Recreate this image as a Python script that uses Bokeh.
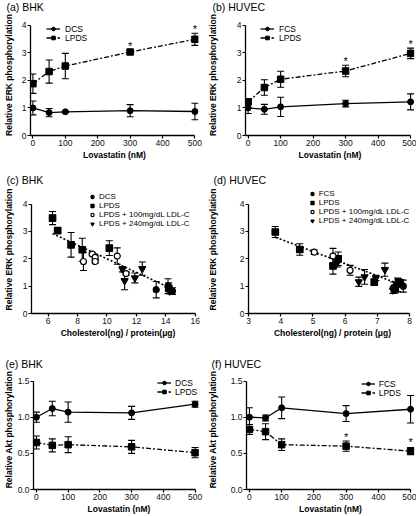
from bokeh.plotting import figure
from bokeh.models import (ColumnDataSource, Whisker, TeeHead, Legend, LegendItem,
                          FixedTicker, PrintfTickFormatter, Range1d)
from bokeh.layouts import column, row
from bokeh.embed import file_html
from bokeh.resources import INLINE
from bokeh.core.properties import value

FONT = "Liberation Sans"

# ---------------- data ----------------
lovastatin_nM = [0, 50, 100, 300, 500]
lov_ticks = [0, 100, 200, 300, 400, 500]
erk_ticks = [0, 1, 2, 3, 4]
akt_ticks = [0.0, 0.5, 1.0, 1.5]

# (a) BHK ERK
a_dcs = [1.0, 0.83, 0.86, 0.9, 0.87]
a_dcs_err = [0.25, 0.15, 0.03, 0.22, 0.3]
a_lpds = [1.88, 2.32, 2.52, 3.03, 3.49]
a_lpds_err = [0.35, 0.42, 0.46, 0.07, 0.22]
a_star_x = [300, 500]
a_star_y = [3.25, 3.85]

# (b) HUVEC ERK
b_fcs = [1.0, 0.95, 1.04, 1.16, 1.22]
b_fcs_err = [0.2, 0.18, 0.35, 0.12, 0.29]
b_lpds = [1.22, 1.74, 2.04, 2.34, 2.98]
b_lpds_err = [0.1, 0.28, 0.29, 0.21, 0.19]
b_star_x = [300, 500]
b_star_y = [2.72, 3.32]

# (c) BHK ERK vs cholesterol
c_dcs_x = [13.35, 14.15, 14.45]
c_dcs_y = [0.87, 1.0, 0.82]
c_dcs_err = [0.3, 0.27, 0.12]
c_lpds_x = [6.3, 6.65, 7.56, 8.32, 10.16, 14.2]
c_lpds_y = [3.49, 3.03, 2.51, 2.33, 2.39, 0.92]
c_lpds_err = [0.24, 0.05, 0.45, 0.42, 0.27, 0.2]
c_ldl100_x = [8.4, 9.0, 9.2, 9.2, 10.7, 11.3]
c_ldl100_y = [1.9, 2.17, 2.05, 1.9, 2.1, 1.46]
c_ldl100_err = [0.33, 0.05, 0.08, 0.05, 0.3, 0.06]
c_ldl240_x = [11.05, 11.2, 11.9, 12.4, 14.25]
c_ldl240_y = [1.62, 1.2, 1.3, 1.64, 0.82]
c_ldl240_err = [0.1, 0.33, 0.18, 0.24, 0.1]
c_fit_x = [6.3, 14.5]
c_fit_y = [2.92, 0.88]
c_ticks = [6, 8, 10, 12, 14, 16]

# (d) HUVEC ERK vs cholesterol
d_fcs_x = [7.5, 7.62, 7.72, 7.8]
d_fcs_y = [0.95, 1.05, 1.12, 1.0]
d_fcs_err = [0.2, 0.25, 0.12, 0.22]
d_lpds_x = [3.83, 4.59, 5.62, 5.78, 6.9, 7.55, 7.65]
d_lpds_y = [2.98, 2.34, 1.74, 2.0, 1.15, 0.9, 1.15]
d_lpds_err = [0.2, 0.21, 0.3, 0.25, 0.1, 0.15, 0.1]
d_ldl100_x = [5.04, 5.62, 6.15]
d_ldl100_y = [2.24, 2.1, 1.58]
d_ldl100_err = [0.08, 0.28, 0.18]
d_ldl240_x = [5.75, 6.42, 6.6, 6.95, 7.23, 7.48]
d_ldl240_y = [1.85, 1.16, 1.34, 1.3, 1.6, 0.85]
d_ldl240_err = [0.15, 0.17, 0.27, 0.1, 0.24, 0.12]
d_fit_x = [3.85, 7.8]
d_fit_y = [2.78, 1.02]
d_ticks = [3, 4, 5, 6, 7, 8]

# (e) BHK Akt
e_dcs = [1.0, 1.12, 1.07, 1.06, 1.18]
e_dcs_err = [0.07, 0.1, 0.14, 0.09, 0.04]
e_lpds = [0.65, 0.61, 0.62, 0.59, 0.51]
e_lpds_err = [0.09, 0.09, 0.11, 0.09, 0.07]

# (f) HUVEC Akt
f_fcs = [1.0, 0.99, 1.13, 1.05, 1.11]
f_fcs_err = [0.13, 0.04, 0.15, 0.11, 0.19]
f_lpds = [0.83, 0.8, 0.62, 0.6, 0.53]
f_lpds_err = [0.07, 0.11, 0.08, 0.07, 0.05]
f_star_x = [300, 500]
f_star_y = [0.73, 0.66]

# ---------------- styling helpers ----------------
TICK_FS = "8.5px"
TITLE_FS = "8.5px"
LEG_FS = "8.5px"
LEG_FS_SMALL = "8px"
PANEL_FS = "10.5px"
DASHDOT = "5 2 2 2"
DOTTED = "2 2"


def make_fig(w, h, title, title_off, title_va, xr, yr, mb, xb, yb, xticks, yticks,
             xlabel, ylabel, ystand, yfmt=None):
    p = figure(width=w, height=h, x_range=Range1d(*xr), y_range=Range1d(*yr),
               output_backend="svg", toolbar_location=None, tools="",
               min_border_left=mb[0], min_border_right=mb[1],
               min_border_top=mb[2], min_border_bottom=mb[3])
    p.title.text = title
    p.title.align = "left"
    p.title.offset = title_off
    p.title.standoff = 0
    p.title.vertical_align = title_va
    p.title.text_font = FONT
    p.title.text_font_size = PANEL_FS
    p.title.text_font_style = "normal"
    p.title.text_color = "black"
    p.outline_line_color = None
    p.xgrid.visible = False
    p.ygrid.visible = False
    p.background_fill_color = "white"
    p.border_fill_color = "white"
    for ax in (p.xaxis[0], p.yaxis[0]):
        ax.axis_line_width = 1.3
        ax.axis_line_color = "black"
        ax.major_tick_line_color = "black"
        ax.major_tick_line_width = 1.2
        ax.major_tick_out = 3
        ax.major_tick_in = 0
        ax.minor_tick_out = 0
        ax.minor_tick_in = 0
        ax.major_label_text_font = FONT
        ax.major_label_text_font_size = TICK_FS
        ax.major_label_text_color = "#111111"
        ax.major_label_standoff = 1
        ax.axis_label_text_font = FONT
        ax.axis_label_text_font_style = "bold"
        ax.axis_label_text_font_size = TITLE_FS
        ax.axis_label_text_color = "black"
    p.xaxis[0].bounds = xb
    p.yaxis[0].bounds = yb
    p.xaxis[0].ticker = FixedTicker(ticks=xticks)
    p.yaxis[0].ticker = FixedTicker(ticks=yticks)
    if yfmt:
        p.yaxis[0].formatter = PrintfTickFormatter(format=yfmt)
    p.xaxis[0].axis_label = xlabel
    p.xaxis[0].axis_label_standoff = 1
    p.yaxis[0].axis_label = ylabel
    p.yaxis[0].axis_label_standoff = ystand
    return p


def add_err(p, x, y, e):
    src = ColumnDataSource(dict(base=x,
                                upper=[a + b for a, b in zip(y, e)],
                                lower=[a - b for a, b in zip(y, e)]))
    w = Whisker(source=src, base="base", upper="upper", lower="lower",
                dimension="height", line_color="black", line_width=1.1,
                upper_head=TeeHead(size=7, line_color="black", line_width=1.1),
                lower_head=TeeHead(size=7, line_color="black", line_width=1.1))
    p.add_layout(w)


def add_leg(p, label, renderers, x, y, gw, standoff, fs=LEG_FS):
    lg = Legend(items=[LegendItem(label=label, renderers=renderers)], location=(x, y),
                padding=0, margin=0, spacing=0, glyph_width=gw, glyph_height=9,
                label_height=9, label_standoff=standoff, label_text_font=FONT,
                label_text_font_size=fs, label_text_color="black",
                border_line_color=None, background_fill_alpha=0.0)
    p.add_layout(lg)


def line_series(p, x, y, e, marker, dash, size):
    r1 = p.line(x, y, line_color="black", line_width=1.3, line_dash=dash)
    add_err(p, x, y, e)
    r2 = p.scatter(x, y, marker=marker, size=size, fill_color="black", line_color="black")
    return [r1, r2]


def stars(p, x, y):
    p.text(x=x, y=y, text=["*"] * len(x), text_font=value(FONT), text_font_size="11px",
           text_align="center", text_baseline="middle", text_color="black")


def scatter_series(p, x, y, e, marker, size, fill):
    add_err(p, x, y, e)
    return [p.scatter(x, y, marker=marker, size=size, fill_color=fill,
                      line_color="black", line_width=1.2)]


W1, W2 = 204, 212
R1, R2, R3 = 170, 170, 176
LOV = "Lovastatin (nM)"
CHOL_C = "Cholesterol(ng) / protein(\u03bcg)"
CHOL_D = "Cholesterol(ng) / protein (\u03bcg)"
ERK_T = "Relative ERK phosphorylation"
AKT_T = "Relative Akt phosphorylation"

# (a)
pa = make_fig(W1, R1, "(a) BHK", -24, "top", (-7.45, 511), (0, 4.39), (24, 6, 12, 35),
              (-7.45, 500), (0, 4), lov_ticks, erk_ticks, LOV, ERK_T, 5)
ra1 = line_series(pa, lovastatin_nM, a_dcs, a_dcs_err, "circle", "solid", 6)
ra2 = line_series(pa, lovastatin_nM, a_lpds, a_lpds_err, "square", DASHDOT, 6.5)
stars(pa, a_star_x, a_star_y)
add_leg(pa, "DCS", ra1, 16, 101.5, 14, 5)
add_leg(pa, "LPDS", ra2, 16, 92.5, 14, 5)

# (b)
pb = make_fig(W2, R1, "(b) HUVEC", -33, "top", (-8.1, 512), (0, 4.39), (37, 2, 12, 35),
              (-8.1, 500), (0, 4), lov_ticks, erk_ticks, LOV, ERK_T, 16)
rb1 = line_series(pb, lovastatin_nM, b_fcs, b_fcs_err, "circle", "solid", 6)
rb2 = line_series(pb, lovastatin_nM, b_lpds, b_lpds_err, "square", DASHDOT, 6.5)
stars(pb, b_star_x, b_star_y)
add_leg(pb, "FCS", rb1, 15, 101.5, 14, 5)
add_leg(pb, "LPDS", rb2, 15, 92.5, 14, 5)

# (c)
pc = make_fig(W1, R2, "(c) BHK", -25, "bottom", (4.87, 16.63), (0, 4.679), (25, 0, 15, 24),
              (4.87, 16), (0, 4), c_ticks, erk_ticks, CHOL_C, ERK_T, 6)
pc.line(c_fit_x, c_fit_y, line_color="black", line_width=1.6, line_dash=DOTTED)
rc1 = scatter_series(pc, c_dcs_x, c_dcs_y, c_dcs_err, "circle", 6, "black")
rc2 = scatter_series(pc, c_lpds_x, c_lpds_y, c_lpds_err, "square", 6.5, "black")
rc3 = scatter_series(pc, c_ldl100_x, c_ldl100_y, c_ldl100_err, "circle", 6, "white")
rc4 = scatter_series(pc, c_ldl240_x, c_ldl240_y, c_ldl240_err, "inverted_triangle", 7, "black")
add_leg(pc, "DCS", rc1, 57, 112.2, 8, 3, LEG_FS_SMALL)
add_leg(pc, "LPDS", rc2, 57, 103.2, 8, 3, LEG_FS_SMALL)
add_leg(pc, "LPDS + 100mg/dL LDL-C", rc3, 57, 94.2, 8, 3, LEG_FS_SMALL)
add_leg(pc, "LPDS + 240mg/dL LDL-C", rc4, 57, 84.8, 8, 3, LEG_FS_SMALL)

# (d)
pd_ = make_fig(W2, R2, "(d) HUVEC", -35, "bottom", (3, 8.21), (0, 4.679), (40, 0, 15, 24),
               (3, 8), (0, 4), d_ticks, erk_ticks, CHOL_D, ERK_T, 19)
pd_.line(d_fit_x, d_fit_y, line_color="black", line_width=1.6, line_dash=DOTTED)
rd1 = scatter_series(pd_, d_fcs_x, d_fcs_y, d_fcs_err, "circle", 6, "black")
rd2 = scatter_series(pd_, d_lpds_x, d_lpds_y, d_lpds_err, "square", 6.5, "black")
rd3 = scatter_series(pd_, d_ldl100_x, d_ldl100_y, d_ldl100_err, "circle", 6, "white")
rd4 = scatter_series(pd_, d_ldl240_x, d_ldl240_y, d_ldl240_err, "inverted_triangle", 7, "black")
add_leg(pd_, "FCS", rd1, 59.7, 115, 8, 3, LEG_FS_SMALL)
add_leg(pd_, "LPDS", rd2, 59.7, 106.5, 8, 3, LEG_FS_SMALL)
add_leg(pd_, "LPDS + 100mg/dL LDL-C", rd3, 59.7, 97, 8, 3, LEG_FS_SMALL)
add_leg(pd_, "LPDS + 240mg/dL LDL-C", rd4, 59.7, 88, 8, 3, LEG_FS_SMALL)

# (e)
pe = make_fig(W1, R3, "(e) BHK", -28, "bottom", (-9.2, 529.7), (0, 1.66), (28, 0, 29, 26),
              (-9.2, 500), (0, 1.5), lov_ticks, akt_ticks, LOV, AKT_T, 1, "%.1f")
re1 = line_series(pe, lovastatin_nM, e_dcs, e_dcs_err, "circle", "solid", 6)
re2 = line_series(pe, lovastatin_nM, e_lpds, e_lpds_err, "square", DASHDOT, 6.5)
add_leg(pe, "DCS", re1, 124, 101.2, 14, 4)
add_leg(pe, "LPDS", re2, 124, 92.2, 14, 4)

# (f)
pf = make_fig(W2, R3, "(f) HUVEC", -35, "bottom", (-9.1, 512.2), (0, 1.66), (39, 2, 29, 26),
              (-9.1, 500), (0, 1.5), lov_ticks, akt_ticks, LOV, AKT_T, 10, "%.1f")
rf1 = line_series(pf, lovastatin_nM, f_fcs, f_fcs_err, "circle", "solid", 6)
rf2 = line_series(pf, lovastatin_nM, f_lpds, f_lpds_err, "square", DASHDOT, 6.5)
stars(pf, f_star_x, f_star_y)
add_leg(pf, "FCS", rf1, 114.7, 100.5, 14, 4)
add_leg(pf, "LPDS", rf2, 114.7, 91.5, 14, 4)

layout = column(row(pa, pb), row(pc, pd_), row(pe, pf))

with open("out.html", "w") as fh:
    fh.write(file_html(layout, INLINE))
